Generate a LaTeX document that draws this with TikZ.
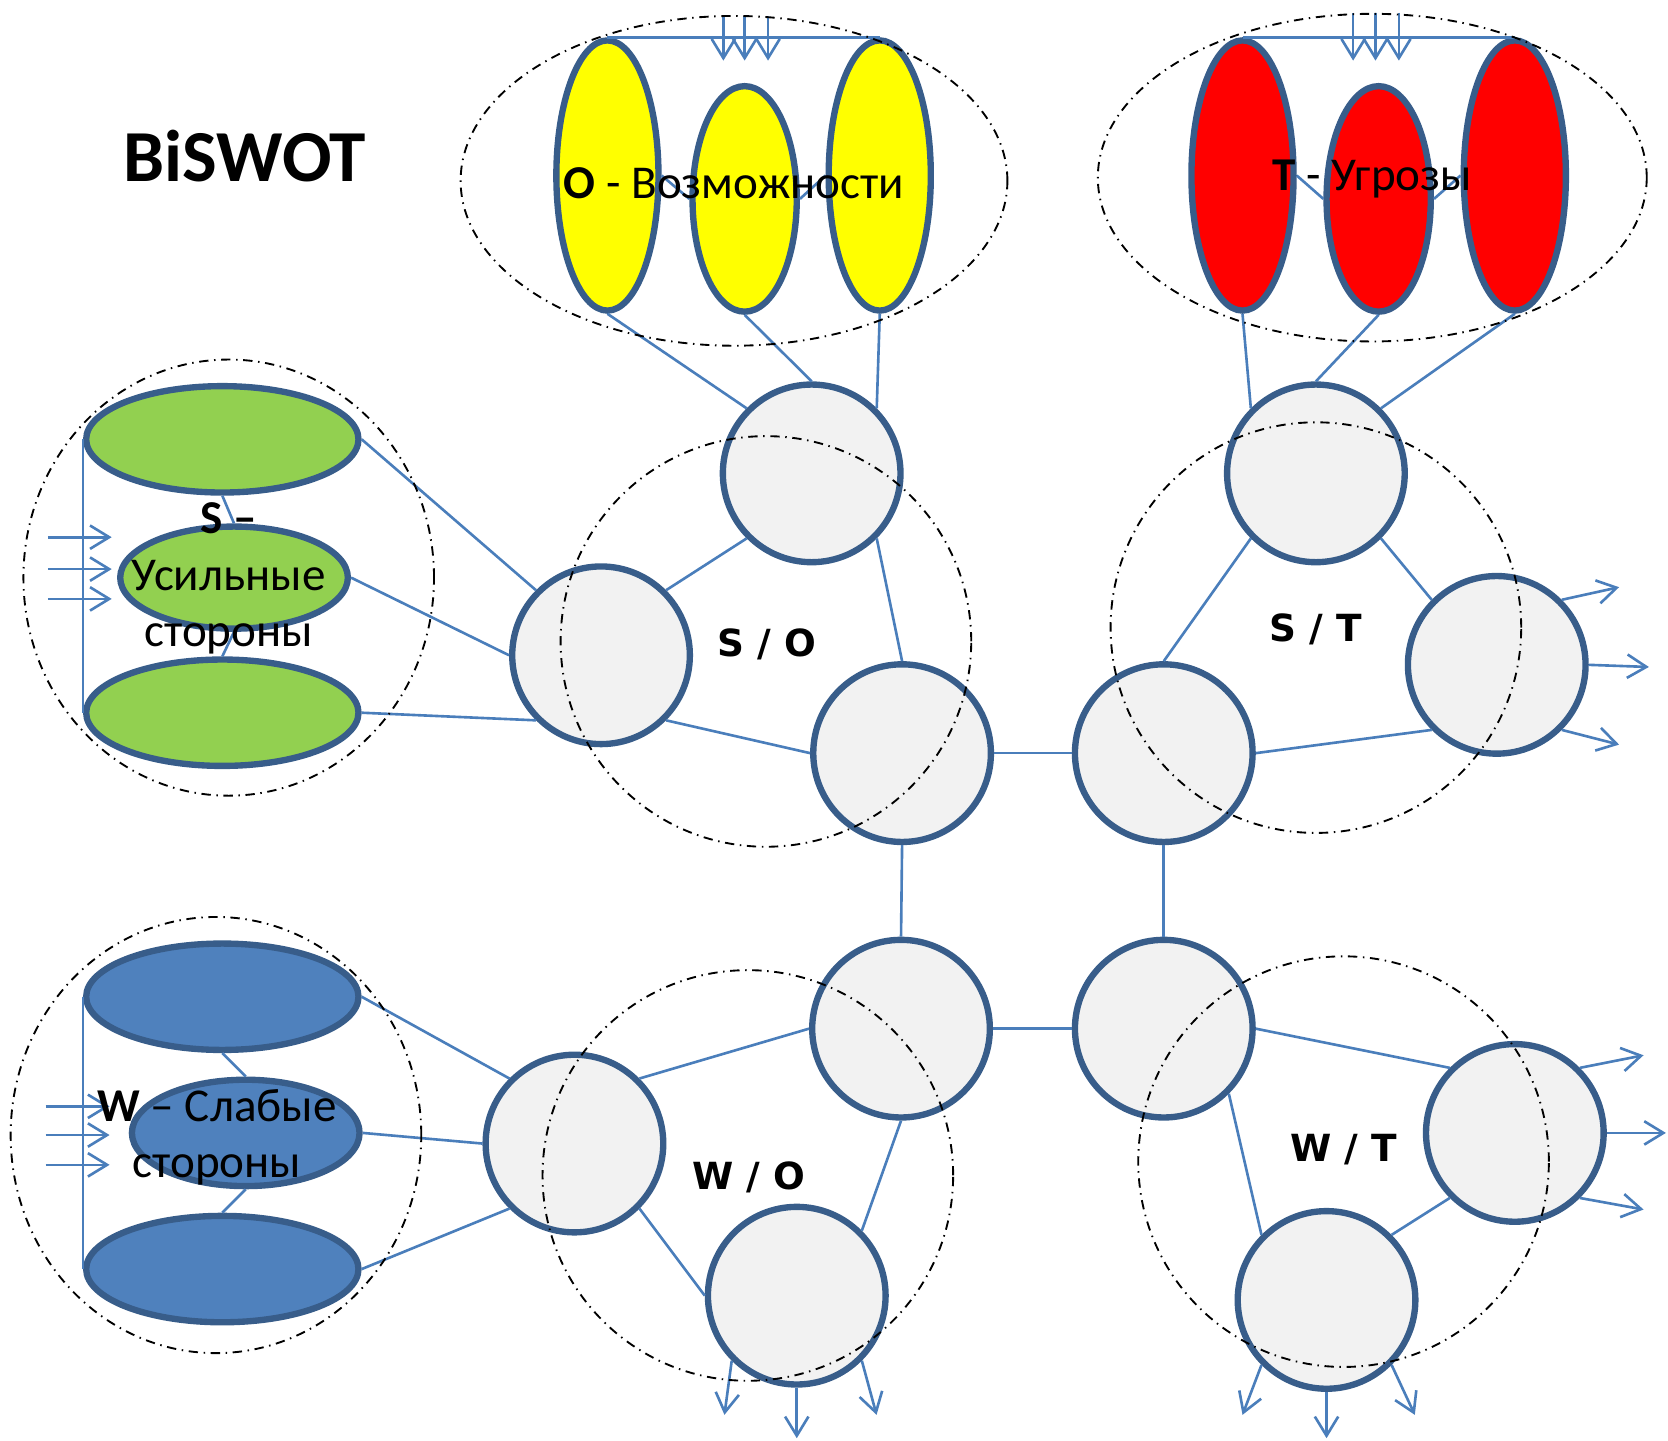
\documentclass[tikz,border=0pt]{standalone}
\usepackage{fontspec}
\setmainfont{Carlito}
\newfontfamily\lblfont{DejaVu Sans}
\usepackage{tikz}
\usetikzlibrary{shapes.geometric,arrows.meta}
\usepackage{xcolor}

\definecolor{rim}{HTML}{385D8A}
\definecolor{wire}{HTML}{4A7EBB}
\definecolor{oppfill}{HTML}{FFFF00}
\definecolor{thrfill}{HTML}{FF0000}
\definecolor{strfill}{HTML}{92D050}
\definecolor{weakfill}{HTML}{4F81BD}
\definecolor{cellfill}{HTML}{F2F2F2}

\begin{document}
\begin{tikzpicture}[
		blob/.style={ellipse,draw=rim,line width=1.7pt,inner sep=0pt},
		cell/.style={circle,draw=rim,fill=cellfill,line width=1.7pt,minimum size=1.67cm,inner sep=0pt},
		link/.style={draw=wire,line width=0.7pt},
		flow/.style={link,-{Straight Barb[length=1.8mm,width=2.2mm]}},
		zone/.style={draw=black,line width=0.5pt,inner sep=0pt,dash pattern=on 2.5pt off 1.5pt on 0.4pt off 1.5pt},
		lbl/.style={font=\lblfont\bfseries\fontsize{10}{12}\selectfont},
		txt/.style={font=\fontsize{12.6}{15.1}\selectfont,align=center}]

		\useasboundingbox (0,0) rectangle (15.68,13.54);

		% O
		\node [blob,fill=oppfill,minimum width=0.96cm,minimum height=2.54cm] (o1) at (5.71, 11.89) {};
		\node [blob,fill=oppfill,minimum width=0.98cm,minimum height=2.12cm] (o2) at (7.00, 11.67) {};
		\node [blob,fill=oppfill,minimum width=0.96cm,minimum height=2.54cm] (o3) at (8.27, 11.89) {};
		% T
		\node [blob,fill=thrfill,minimum width=0.96cm,minimum height=2.54cm] (t1) at (11.68, 11.89) {};
		\node [blob,fill=thrfill,minimum width=0.98cm,minimum height=2.12cm] (t2) at (12.96, 11.67) {};
		\node [blob,fill=thrfill,minimum width=0.96cm,minimum height=2.54cm] (t3) at (14.24, 11.89) {};
		% S
		\node [blob,fill=strfill,minimum width=2.56cm,minimum height=1.00cm] (s1) at (2.09, 9.41) {};
		\node [blob,fill=strfill,minimum width=2.14cm,minimum height=0.96cm] (s2) at (2.20, 8.11) {};
		\node [blob,fill=strfill,minimum width=2.56cm,minimum height=1.00cm] (s3) at (2.09, 6.84) {};
		% W
		\node [blob,fill=weakfill,minimum width=2.56cm,minimum height=1.00cm] (w1) at (2.09, 4.17) {};
		\node [blob,fill=weakfill,minimum width=2.14cm,minimum height=1.00cm] (w2) at (2.31, 2.89) {};
		\node [blob,fill=weakfill,minimum width=2.56cm,minimum height=1.00cm] (w3) at (2.09, 1.61) {};

		\node [cell] (so1) at (7.63, 9.09) {};
		\node [cell] (so2) at (5.65, 7.38) {};
		\node [cell] (so3) at (8.48, 6.46) {};
		\node [cell] (st1) at (10.94, 6.46) {};
		\node [cell] (st2) at (12.37, 9.09) {};
		\node [cell] (st3) at (14.07, 7.29) {};
		\node [cell] (wo1) at (8.47, 3.87) {};
		\node [cell] (wo2) at (5.40, 2.79) {};
		\node [cell] (wo3) at (7.49, 1.36) {};
		\node [cell] (wt1) at (10.94, 3.87) {};
		\node [cell] (wt2) at (14.24, 2.89) {};
		\node [cell] (wt3) at (12.47, 1.32) {};

		\draw [link] (o1.north) -- (o3.north);
		\draw [link] (o1.east) -- (o2.west);
		\draw [link] (o2.east) -- (o3.west);
		\draw [link] (t1.north) -- (t3.north);
		\draw [link] (t1.east) -- (t2.west);
		\draw [link] (t2.east) -- (t3.west);
		\draw [link] (s1.west) -- (s3.west);
		\draw [link] (s1.south) -- (s2.north);
		\draw [link] (s2.south) -- (s3.north);
		\draw [link] (w1.west) -- (w3.west);
		\draw [link] (w1.south) -- (w2.north);
		\draw [link] (w2.south) -- (w3.north);

		\draw [link] (o1.south) -- (so1.135);
		\draw [link] (o2.south) -- (so1.north);
		\draw [link] (o3.south) -- (so1.45);
		\draw [link] (t1.south) -- (st2.135);
		\draw [link] (t2.south) -- (st2.north);
		\draw [link] (t3.south) -- (st2.45);
		\draw [link] (s1.east) -- (so2.135);
		\draw [link] (s2.east) -- (so2.west);
		\draw [link] (s3.east) -- (so2.225);
		\draw [link] (w1.east) -- (wo2.135);
		\draw [link] (w2.east) -- (wo2.west);
		\draw [link] (w3.east) -- (wo2.225);

		\draw [link] (so2.45) -- (so1.225);
		\draw [link] (so1.315) -- (so3.north);
		\draw [link] (so2.315) -- (so3.west);
		\draw [link] (st1.north) -- (st2.225);
		\draw [link] (st2.315) -- (st3.135);
		\draw [link] (st1.east) -- (st3.225);
		\draw [link] (wo2.45) -- (wo1.west);
		\draw [link] (wo2.315) -- (wo3.west);
		\draw [link] (wo1.south) -- (wo3.45);
		\draw [link] (wt1.east) -- (wt2.135);
		\draw [link] (wt1.315) -- (wt3.135);
		\draw [link] (wt3.45) -- (wt2.225);

		\draw [link] (so3.east) -- (st1.west);
		\draw [link] (so3.south) -- (wo1.north);
		\draw [link] (st1.south) -- (wt1.north);
		\draw [link] (wo1.east) -- (wt1.west);

		% inputs
		\foreach \x [count=\i] in {6.80,7.00,7.22} {
			\coordinate (oa\i) at (\x, 13.39);
			\coordinate (ob\i) at (\x, 12.97);
			\draw [flow] (oa\i) -- (ob\i);
		}
		\foreach \x [count=\i] in {12.72,12.93,13.15} {
			\coordinate (ta\i) at (\x, 13.42);
			\coordinate (tb\i) at (\x, 12.97);
			\draw [flow] (ta\i) -- (tb\i);
		}
		\foreach \y [count=\i] in {8.49,8.19,7.91} {
			\coordinate (sa\i) at (0.45, \y);
			\coordinate (sb\i) at (1.05, \y);
			\draw [flow] (sa\i) -- (sb\i);
		}
		\foreach \y [count=\i] in {3.14,2.87,2.59} {
			\coordinate (wa\i) at (0.43, \y);
			\coordinate (wb\i) at (1.03, \y);
			\draw [flow] (wa\i) -- (wb\i);
		}

		% outputs
		\foreach \a/\x/\y [count=\i] in {45/15.22/8.02, 0/15.50/7.27, 315/15.22/6.54} {
			\coordinate (stx\i) at (\x, \y);
			\draw [flow] (st3.\a) -- (stx\i);
		}
		\foreach \a/\x/\y [count=\i] in {45/15.45/3.62, 0/15.66/2.89, 315/15.45/2.17} {
			\coordinate (wtx\i) at (\x, \y);
			\draw [flow] (wt2.\a) -- (wtx\i);
		}
		\foreach \a/\x/\y [count=\i] in {225/6.81/0.24, 270/7.49/0.02, 315/8.24/0.24} {
			\coordinate (wox\i) at (\x, \y);
			\draw [flow] (wo3.\a) -- (wox\i);
		}
		\foreach \a/\x/\y [count=\i] in {225/11.68/0.24, 270/12.47/0.02, 315/13.30/0.24} {
			\coordinate (wty\i) at (\x, \y);
			\draw [flow] (wt3.\a) -- (wty\i);
		}

		\node [zone,ellipse,minimum width=5.14cm,minimum height=3.10cm] (zo) at (6.90, 11.84) {};
		\node [zone,ellipse,minimum width=5.16cm,minimum height=3.08cm] (zt) at (12.90, 11.87) {};
		\node [zone,ellipse,minimum width=3.86cm,minimum height=4.10cm] (zs) at (2.15, 8.11) {};
		\node [zone,ellipse,minimum width=3.86cm,minimum height=4.10cm] (zw) at (2.03, 2.87) {};
		\node [zone,circle,minimum size=3.86cm] (zso) at (7.20, 7.51) {};
		\node [zone,circle,minimum size=3.86cm] (zst) at (12.37, 7.64) {};
		\node [zone,circle,minimum size=3.86cm] (zwo) at (7.03, 2.49) {};
		\node [zone,circle,minimum size=3.86cm] (zwt) at (12.63, 2.62) {};

		\node [font=\bfseries\fontsize{19.6}{23}\selectfont] (title) at (2.30, 12.07) {BiSWOT};
		\node [txt] (otxt) at (6.90, 11.82) {\textbf{O} - Возможности};
		\node [txt] (ttxt) at (12.90, 11.86) {\textbf{T} - Угрозы};
		\node [txt] (stxt) at (2.15, 8.10) {\textbf{S –}\\Усильные\\стороны};
		\node [txt] (wtxt) at (2.04, 2.85) {\textbf{W} – Слабые\\стороны};
		\node [lbl] (so) at (7.21, 7.48) {S / O};
		\node [lbl] (st) at (12.37, 7.62) {S / T};
		\node [lbl] (wo) at (7.04, 2.47) {W / O};
		\node [lbl] (wt) at (12.63, 2.73) {W / T};
\end{tikzpicture}
\end{document}
